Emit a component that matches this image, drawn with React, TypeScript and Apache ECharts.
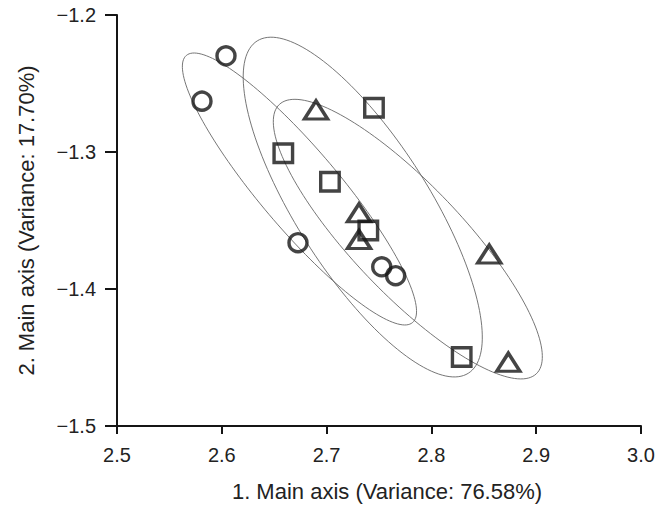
import React, { useEffect, useRef } from "react";
import * as echarts from "echarts";

// Group data (x = 1. main axis, y = 2. main axis)
const circleX = [2.604, 2.5811, 2.6727, 2.7526, 2.7659];
const circleY = [-1.2298, -1.2629, -1.3662, -1.3838, -1.3903];

const squareX = [2.7452, 2.6587, 2.7032, 2.7398, 2.8289];
const squareY = [-1.2677, -1.3009, -1.3217, -1.3573, -1.4496];

const triangleX = [2.6899, 2.7309, 2.7309, 2.8552, 2.8734];
const triangleY = [-1.2693, -1.3444, -1.3639, -1.3745, -1.4534];

// Ellipses: center x, center y, semi-axis vector 1 (dx, dy), semi-axis vector 2 (dx, dy), in data units
const ellipseCX = [2.6741, 2.7345, 2.7775];
const ellipseCY = [-1.3270, -1.3402, -1.3636];
const ellipseA = [[0.1079, -0.0975], [0.1007, -0.1213], [0.1226, -0.0983]];
const ellipseB = [[0.0290, 0.0186], [0.0536, 0.0257], [0.0380, 0.0274]];

const xTicks = [2.5, 2.6, 2.7, 2.8, 2.9, 3.0];
const yTicks = [-1.5, -1.4, -1.3, -1.2];

const FONT = "'Liberation Sans', Arial, Helvetica, sans-serif";
const INK = "#151515";

export default function App() {
  const ref = useRef<HTMLDivElement>(null);

  useEffect(() => {
    if (!ref.current) return;
    const chart = echarts.init(ref.current, null, { renderer: "svg" });

    const zip = (xs: number[], ys: number[]) => xs.map((x, i) => [x, ys[i]]);
    const ellipseData = ellipseCX.map((cx, i) => [
      cx,
      ellipseCY[i],
      ellipseA[i][0],
      ellipseA[i][1],
      ellipseB[i][0],
      ellipseB[i][1],
    ]);

    const markerStyle = {
      color: "rgba(0,0,0,0)",
      borderColor: INK,
      borderWidth: 3.4,
    };

    chart.setOption({
      animation: false,
      backgroundColor: "#ffffff",
      grid: { left: 117, right: 26, top: 15, bottom: 79, containLabel: false },
      xAxis: {
        type: "value",
        min: xTicks[0],
        max: xTicks[xTicks.length - 1],
        interval: 0.1,
        name: "1. Main axis (Variance: 76.58%)",
        nameLocation: "middle",
        nameGap: 54,
        nameTextStyle: { fontFamily: FONT, fontSize: 22, color: "#222", padding: [0, 0, 0, 16] },
        axisLine: { show: true, onZero: false, lineStyle: { color: INK, width: 2 } },
        axisTick: { show: true, inside: false, length: 8, lineStyle: { color: INK, width: 2 } },
        axisLabel: {
          margin: 19,
          fontFamily: FONT,
          fontSize: 20,
          color: "#222",
          formatter: (v: number) => v.toFixed(1),
        },
        splitLine: { show: false },
      },
      yAxis: {
        type: "value",
        min: yTicks[0],
        max: yTicks[yTicks.length - 1],
        interval: 0.1,
        name: "2. Main axis (Variance: 17.70%)",
        nameLocation: "middle",
        nameGap: 80,
        nameRotate: 90,
        nameTextStyle: { fontFamily: FONT, fontSize: 22, color: "#222" },
        axisLine: { show: true, onZero: false, lineStyle: { color: INK, width: 2 } },
        axisTick: { show: true, inside: false, length: 12, lineStyle: { color: INK, width: 2 } },
        axisLabel: {
          margin: 21,
          fontFamily: FONT,
          fontSize: 20,
          color: "#222",
          formatter: (v: number) => v.toFixed(1).replace("-", "\u2212"),
        },
        splitLine: { show: false },
      },
      series: [
        {
          type: "custom",
          silent: true,
          z: 1,
          clip: false,
          data: ellipseData,
          dimensions: ["cx", "cy", "ax", "ay", "bx", "by"],
          encode: { x: 0, y: 1 },
          renderItem: (params: any, api: any) => {
            const cx = api.value(0);
            const cy = api.value(1);
            const ax = api.value(2);
            const ay = api.value(3);
            const bx = api.value(4);
            const by = api.value(5);
            const pts: number[][] = [];
            const N = 160;
            for (let k = 0; k <= N; k++) {
              const t = (k / N) * Math.PI * 2;
              const c = Math.cos(t);
              const s = Math.sin(t);
              pts.push(api.coord([cx + ax * c + bx * s, cy + ay * c + by * s]));
            }
            return {
              type: "polyline",
              shape: { points: pts },
              style: { stroke: "#666666", lineWidth: 0.9, fill: null },
            };
          },
        },
        {
          type: "scatter",
          z: 3,
          symbol: "circle",
          symbolSize: 18,
          itemStyle: markerStyle,
          data: zip(circleX, circleY),
        },
        {
          type: "scatter",
          z: 3,
          symbol: "rect",
          symbolSize: 18.5,
          itemStyle: markerStyle,
          data: zip(squareX, squareY),
        },
        {
          type: "scatter",
          z: 3,
          symbol: "triangle",
          symbolSize: [23, 18],
          itemStyle: markerStyle,
          data: zip(triangleX, triangleY),
        },
      ],
    });

    return () => chart.dispose();
  }, []);

  return (
    <div
      ref={ref}
      style={{ position: "fixed", left: 0, top: 0, width: 667, height: 507, background: "#fff" }}
    />
  );
}
